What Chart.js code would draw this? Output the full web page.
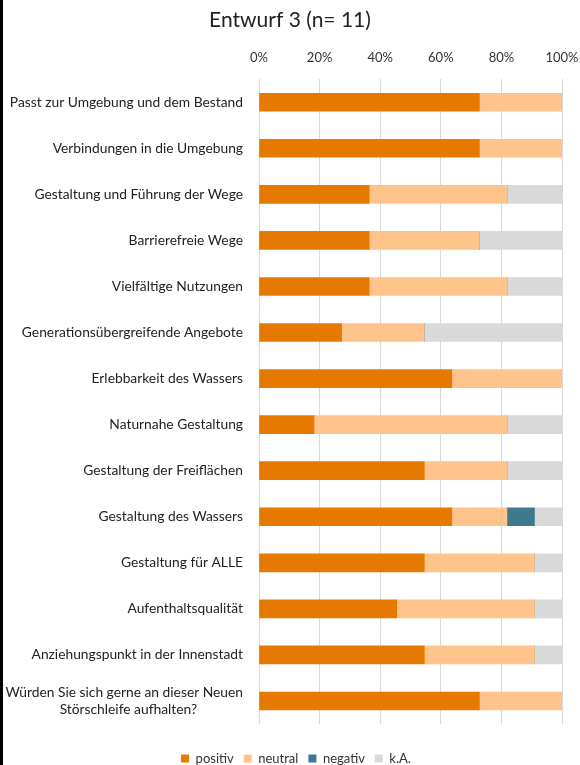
<!DOCTYPE html>
<html><head><meta charset="utf-8">
<script src="https://cdn.jsdelivr.net/npm/chart.js@4"></script>
<style>
html,body{margin:0;padding:0;background:#fff;overflow:hidden;}
#wrap{position:relative;width:580px;height:765px;}
#bl{position:absolute;left:0;top:0;width:3px;height:765px;background:#000;z-index:2;}
canvas{display:block;}
</style></head>
<body><div id="wrap"><div id="bl"></div><canvas id="c" width="580" height="765"></canvas></div>
<script>
const N = 11;
const NB = '\u00A0'.repeat(13);
const categories = [
  "Passt zur Umgebung und dem Bestand",
  "Verbindungen in die Umgebung",
  "Gestaltung und Führung der Wege",
  "Barrierefreie Wege",
  "Vielfältige Nutzungen",
  "Generationsübergreifende Angebote",
  "Erlebbarkeit des Wassers",
  "Naturnahe Gestaltung",
  "Gestaltung der Freiflächen",
  "Gestaltung des Wassers",
  "Gestaltung für ALLE",
  "Aufenthaltsqualität",
  "Anziehungspunkt in der Innenstadt",
  ["Würden Sie sich gerne an dieser Neuen", "Störschleife aufhalten?" + NB]
];
const positiv = [8, 8, 4, 4, 4, 3, 7, 2, 6, 7, 6, 5, 6, 8];
const neutral = [3, 3, 5, 4, 5, 3, 4, 7, 3, 2, 4, 5, 4, 3];
const negativ = [0, 0, 0, 0, 0, 0, 0, 0, 0, 1, 0, 0, 0, 0];
const kA      = [0, 0, 2, 3, 2, 5, 0, 2, 2, 1, 1, 1, 1, 0];
const tickValues = [0, 20, 40, 60, 80, 100];
const pct = a => a.map(v => v / N * 100);

const FONT = "Lato, 'Open Sans', sans-serif";

const boxShift = {
  id: 'boxShift',
  afterLayout(chart) {
    const lg = chart.legend;
    if (lg) { lg.top += 18; lg.bottom += 18; lg.left += 15; lg.right += 15; }
    const tb = chart.titleBlock;
    if (tb) { tb.left += 9; tb.right += 9; }
  }
};

new Chart(document.getElementById('c'), {
  type: 'bar',
  data: {
    labels: categories,
    datasets: [
      {label: 'positiv', data: pct(positiv), backgroundColor: '#E67A00'},
      {label: 'neutral', data: pct(neutral), backgroundColor: '#FEC48C'},
      {label: 'negativ', data: pct(negativ), backgroundColor: '#3E7A8E'},
      {label: 'k.A.', data: pct(kA), backgroundColor: '#D9D9D9'}
    ]
  },
  plugins: [boxShift],
  options: {
    indexAxis: 'y',
    responsive: false,
    animation: false,
    datasets: {bar: {barThickness: 18}},
    layout: {padding: {left: 0, right: 18, top: 8, bottom: 8}},
    plugins: {
      title: {display: true, text: 'Entwurf 3 (n= 11)', color: '#222',
        font: {family: FONT, size: 21, weight: 'normal'}, padding: {top: 0, bottom: 7}},
      legend: {position: 'bottom', labels: {boxWidth: 8, boxHeight: 8, padding: 10, color: '#333',
        font: {family: FONT, size: 13}}},
      tooltip: {enabled: false}
    },
    scales: {
      x: {
        position: 'top', stacked: true, min: 0, max: 100,
        afterBuildTicks: s => { s.ticks = tickValues.map(v => ({value: v})); },
        ticks: {callback: v => v + '%', color: '#333', padding: 14, font: {family: FONT, size: 13}},
        grid: {color: '#D9D9D9', drawTicks: false},
        border: {display: false},
        afterFit: s => { s.height = 39; s.paddingLeft = 0; s.paddingRight = 0; }
      },
      y: {
        stacked: true,
        ticks: {color: '#222', padding: 16, font: {family: FONT, size: 13.8}},
        grid: {display: false, drawTicks: false},
        border: {display: false},
        afterFit: s => { s.width = 259; }
      }
    }
  }
});
</script></body></html>
